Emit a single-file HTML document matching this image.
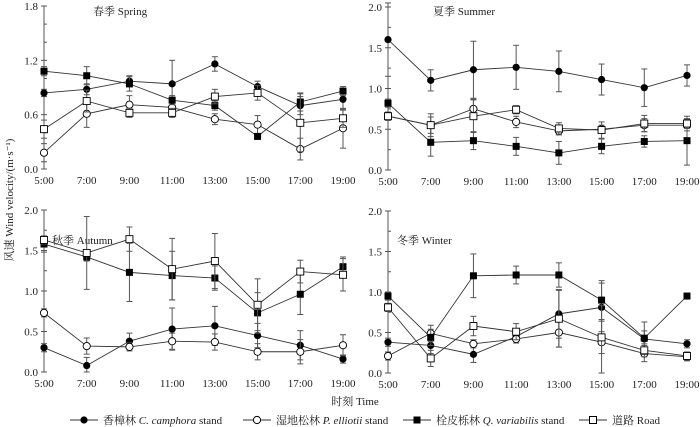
<!DOCTYPE html>
<html><head><meta charset="utf-8"><style>
body{margin:0;background:#fff}
svg{display:block;font-family:"Liberation Serif","Noto Serif CJK SC",serif}
</style></head><body>
<svg id="c" width="700" height="427" viewBox="0 0 700 427"></svg>
<script>
const times=["5:00","7:00","9:00","11:00","13:00","15:00","17:00","19:00"];
const seriesNames=["camphora","elliotii","variabilis","road"];
const springCamphora=[0.84,0.88,0.97,0.94,1.16,0.91,0.70,0.77];
const springElliotii=[0.18,0.61,0.71,0.68,0.55,0.49,0.22,0.45];
const springVariabilis=[1.08,1.03,0.94,0.76,0.70,0.36,0.74,0.86];
const springRoad=[0.44,0.75,0.62,0.62,0.80,0.84,0.51,0.56];
const summerCamphora=[1.60,1.10,1.23,1.26,1.21,1.11,1.01,1.16];
const summerElliotii=[0.66,0.55,0.75,0.59,0.48,0.50,0.55,0.55];
const summerVariabilis=[0.82,0.34,0.36,0.29,0.21,0.29,0.35,0.36];
const summerRoad=[0.66,0.55,0.66,0.74,0.51,0.49,0.57,0.57];
const autumnCamphora=[0.30,0.08,0.38,0.53,0.57,0.45,0.33,0.16];
const autumnElliotii=[0.73,0.32,0.31,0.38,0.37,0.25,0.25,0.33];
const autumnVariabilis=[1.58,1.42,1.23,1.19,1.16,0.73,0.96,1.30];
const autumnRoad=[1.63,1.47,1.64,1.27,1.37,0.83,1.24,1.20];
const winterCamphora=[0.38,0.34,0.23,0.45,0.73,0.81,0.42,0.36];
const winterElliotii=[0.21,0.49,0.36,0.42,0.50,0.38,0.24,0.20];
const winterVariabilis=[0.95,0.44,1.20,1.21,1.21,0.90,0.43,0.95];
const winterRoad=[0.81,0.18,0.58,0.51,0.67,0.44,0.28,0.21];
const springErr=[[0.04,0.06,0.06,0.26,0.08,0.06,0.1,0.12],[0.1,0.15,0.1,0.05,0.06,0.1,0.12,0.22],[0.05,0.1,0.08,0.05,0.05,0.03,0.1,0.05],[0.1,0.12,0.05,0.05,0.08,0.08,0.32,0.1]];
const summerErr=[[0.45,0.13,0.35,0.27,0.25,0.19,0.23,0.13],[0.05,0.1,0.12,0.07,0.05,0.05,0.08,0.07],[0.05,0.17,0.11,0.11,0.14,0.09,0.07,0.3],[0.05,0.14,0.2,0.05,0.07,0.1,0.1,0.06]];
const autumnErr=[[0.05,0.1,0.1,0.26,0.24,0.15,0.18,0.05],[0.05,0.1,0.05,0.1,0.1,0.1,0.15,0.13],[0.1,0.05,0.36,0.3,0.15,0.25,0.25,0.12],[0.05,0.45,0.15,0.38,0.34,0.32,0.14,0.2]];
const winterErr=[[0.05,0.1,0.1,0.05,0.3,0.3,0.1,0.05],[0.05,0.1,0.05,0.05,0.18,0.45,0.1,0.05],[0.05,0.1,0.27,0.11,0.15,0.24,0.2,0.03],[0.05,0.1,0.12,0.1,0.35,0.2,0.08,0.05]];
const springTicks=["0.0","0.6","1.2","1.8"];
const otherTicks=["0.0","0.5","1.0","1.5","2.0"];

const NS="http://www.w3.org/2000/svg";
const svg=document.getElementById('c');
function mk(tag,attrs,parent){const e=document.createElementNS(NS,tag);for(const k in attrs)e.setAttribute(k,attrs[k]);(parent||svg).appendChild(e);return e;}

function panel(name,title,x0,x1,yb,yt,ymax,ticks,minorStep,series,errs,titleX,titleY){
  const g=mk('g',{});
  
  
  const xs=i=>x0+(x1-x0)*i/(times.length-1);
  const ys=v=>yb-(yb-yt)*v/ymax;
  const ax=mk('line',{x1:x0,y1:ys(0),x2:x0,y2:ys(ymax),stroke:'#555','stroke-width':1},g);
  
  
  for(let v=0;v<=ymax+1e-9;v+=minorStep){mk('line',{x1:x0,y1:ys(v),x2:x0+3,y2:ys(v),stroke:'#555'},g);}
  ticks.forEach(t=>{const v=parseFloat(t);
    mk('line',{x1:x0-3,y1:ys(v),x2:x0,y2:ys(v),stroke:'#555'},g);
    const tx=mk('text',{x:x0-6,y:ys(v)+4,'text-anchor':'end','font-size':11,fill:'#222'},g);tx.textContent=t;
    
    });
  times.forEach((t,i)=>{const tx=mk('text',{x:xs(i),y:yb+15,'text-anchor':'middle','font-size':11,fill:'#222'},g);tx.textContent=t;
    
    });
  const tt=mk('text',{x:titleX,y:titleY,'font-size':11,fill:'#222'},g);tt.textContent=title;
  
  
  series.forEach((vals,s)=>{
    const sg=mk('g',{},g);
    
    
    vals.forEach((v,i)=>{const e=errs[s][i];const x=xs(i);
      mk('line',{x1:x,y1:ys(Math.max(0,v-e)),x2:x,y2:ys(v+e),stroke:'#555'},sg);
      mk('line',{x1:x-3,y1:ys(Math.max(0,v-e)),x2:x+3,y2:ys(Math.max(0,v-e)),stroke:'#555'},sg);
      mk('line',{x1:x-3,y1:ys(v+e),x2:x+3,y2:ys(v+e),stroke:'#555'},sg);});
    mk('polyline',{points:vals.map((v,i)=>xs(i)+','+ys(v)).join(' '),fill:'none',stroke:'#333','stroke-width':0.9},sg);
    vals.forEach((v,i)=>{const x=xs(i),y=ys(v);let m;
      if(s===0)m=mk('circle',{cx:x,cy:y,r:3.6,fill:'#000'},sg);
      else if(s===1)m=mk('circle',{cx:x,cy:y,r:3.6,fill:'#fff',stroke:'#000','stroke-width':0.9},sg);
      else if(s===2)m=mk('rect',{x:x-3.5,y:y-3.5,width:7,height:7,fill:'#000'},sg);
      else m=mk('rect',{x:x-3.5,y:y-3.5,width:7,height:7,fill:'#fff',stroke:'#000','stroke-width':0.9},sg);
      
      });
  });
}
panel('spring','春季  Spring',44,343,169,6,1.8,springTicks,0.2,[springCamphora,springElliotii,springVariabilis,springRoad],springErr,93,15);
panel('summer','夏季  Summer',388,687,170,7,2.0,otherTicks,0.25,[summerCamphora,summerElliotii,summerVariabilis,summerRoad],summerErr,433,15);
panel('autumn','秋季 Autumn',44,343,372,210,2.0,otherTicks,0.25,[autumnCamphora,autumnElliotii,autumnVariabilis,autumnRoad],autumnErr,52,244);
panel('winter','冬季  Winter',388,687,373,211,2.0,otherTicks,0.25,[winterCamphora,winterElliotii,winterVariabilis,winterRoad],winterErr,397,244);

const yl=mk('text',{x:0,y:0,'font-size':11,fill:'#222','text-anchor':'middle',transform:'translate(13,200) rotate(-90)'});
yl.textContent='风速  Wind velocity/(m·s⁻¹)';


const xl=mk('text',{x:355,y:405,'font-size':11,fill:'#222','text-anchor':'middle'});
xl.textContent='时刻  Time';



const legend=[["香樟林 ","C. camphora"," stand",70],["湿地松林 ","P. elliotii"," stand",243],["栓皮栎林 ","Q. variabilis"," stand",403],["道路 Road","","",579]];
legend.forEach((L,s)=>{
  const g=mk('g',{});
  
  
  const x=L[3],y=420;
  mk('line',{x1:x,y1:y,x2:x+28,y2:y,stroke:'#333'},g);
  if(s===0)mk('circle',{cx:x+14,cy:y,r:3.6,fill:'#000'},g);
  else if(s===1)mk('circle',{cx:x+14,cy:y,r:3.6,fill:'#fff',stroke:'#000'},g);
  else if(s===2)mk('rect',{x:x+10.5,y:y-3.5,width:7,height:7,fill:'#000'},g);
  else mk('rect',{x:x+10.5,y:y-3.5,width:7,height:7,fill:'#fff',stroke:'#000'},g);
  const t=mk('text',{x:x+33,y:y+4,'font-size':11,fill:'#222'},g);
  t.appendChild(document.createTextNode(L[0]));
  if(L[1]){const it=mk('tspan',{'font-style':'italic'},t);it.textContent=L[1];t.appendChild(document.createTextNode(L[2]));}
});
</script>
</body></html>
